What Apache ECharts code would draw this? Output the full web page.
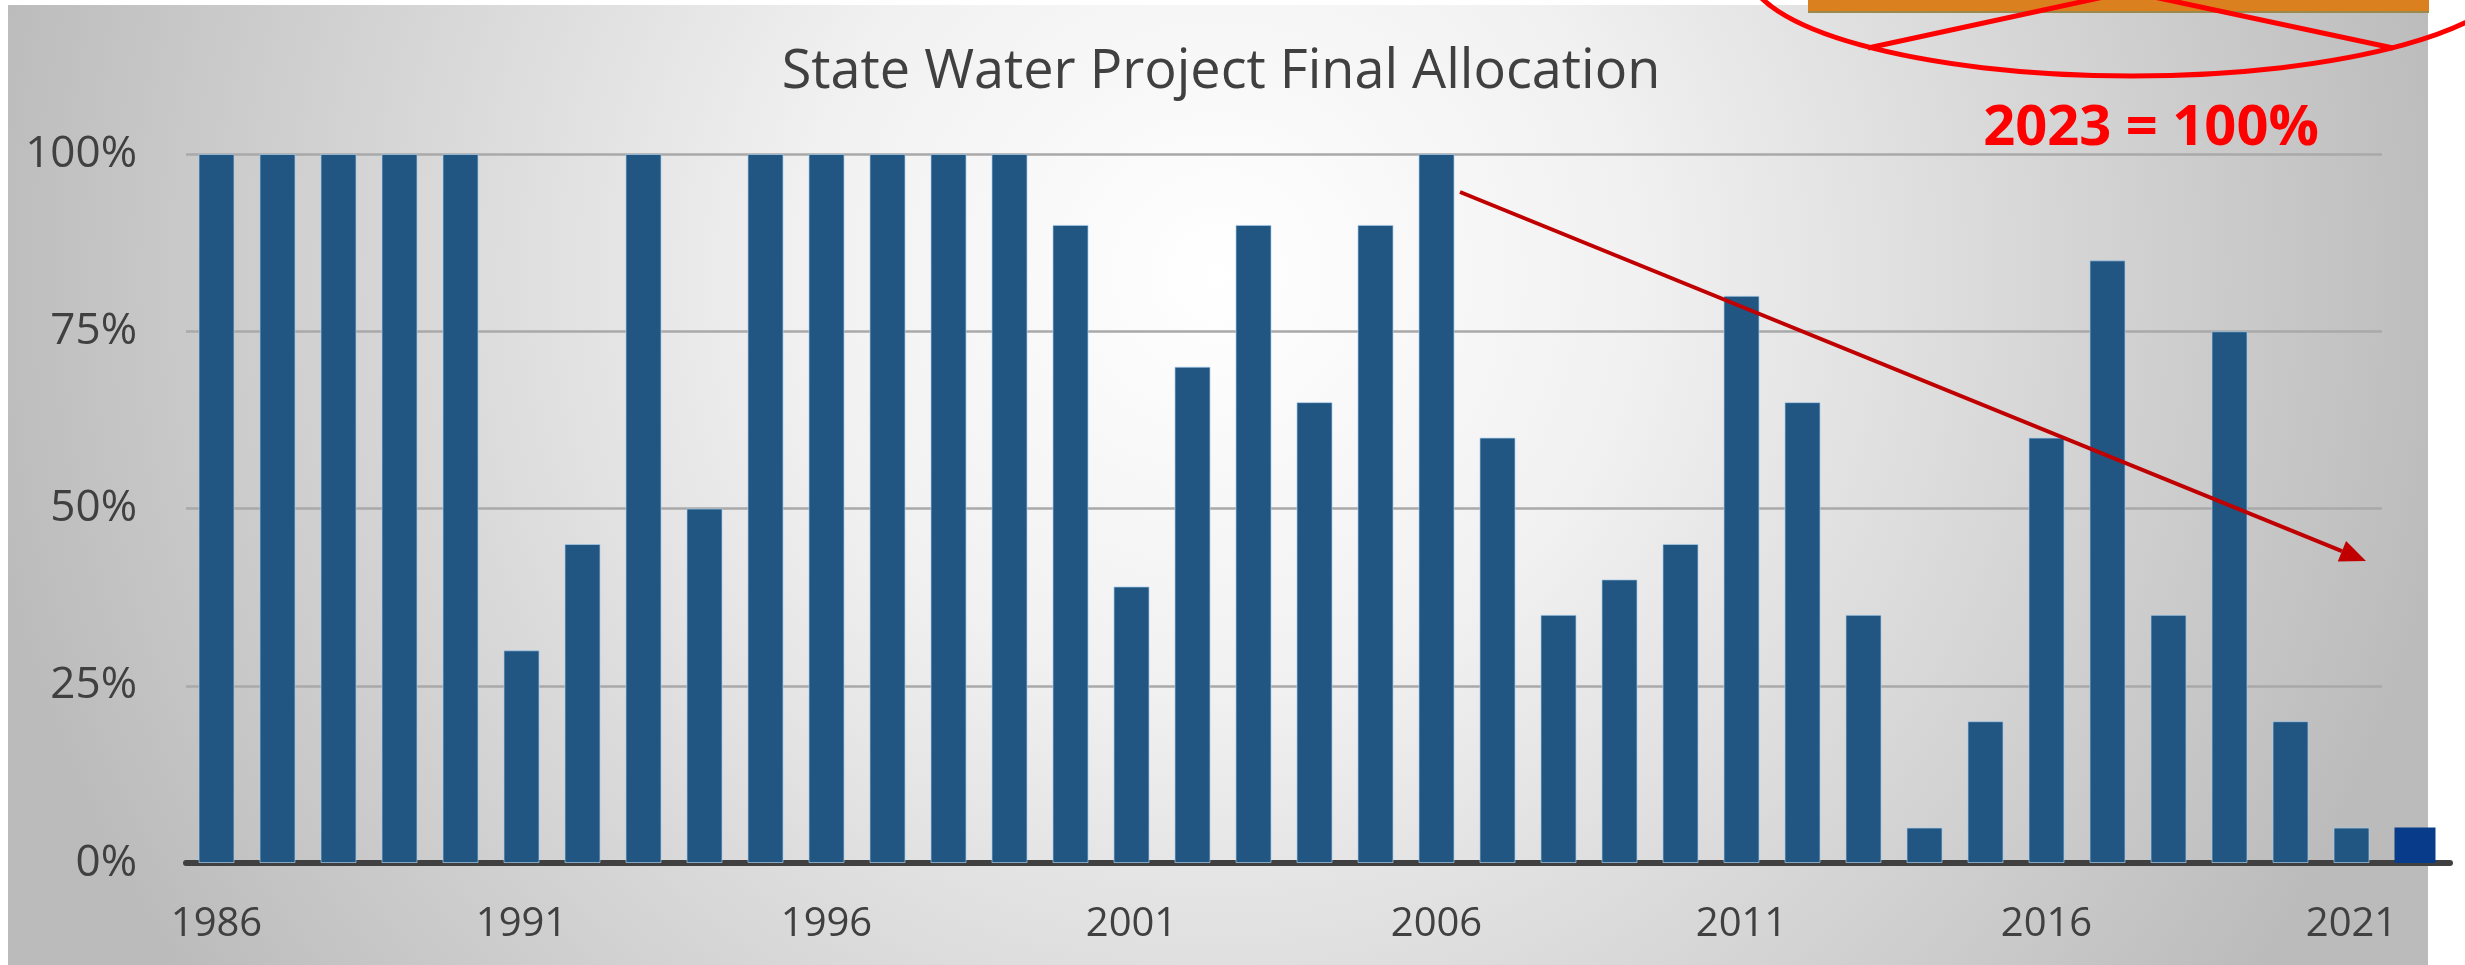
<!DOCTYPE html>
<html>
<head>
<meta charset="utf-8">
<title>State Water Project Final Allocation</title>
<script src="https://cdn.jsdelivr.net/npm/echarts@6/dist/echarts.min.js"></script>
<style>
    html, body {margin: 0; padding: 0; background: #ffffff;}
    #swp {width: 2465px; height: 965px;}
</style>
</head>
<body>
<div id="swp"></div>
<script>
// allocation by year (percent of contract amount)
var years = ['1986', '1987', '1988', '1989', '1990', '1991', '1992', '1993', '1994', '1995', '1996', '1997',
    '1998', '1999', '2000', '2001', '2002', '2003', '2004', '2005', '2006', '2007', '2008', '2009',
    '2010', '2011', '2012', '2013', '2014', '2015', '2016', '2017', '2018', '2019', '2020', '2021'];
var allocation = [100, 100, 100, 100, 100, 30, 45, 100, 50, 100, 100, 100,
    100, 100, 90, 39, 70, 90, 65, 90, 100, 60, 35, 40,
    45, 80, 65, 35, 5, 20, 60, 85, 35, 75, 20, 5];
// the bar pasted on at the end
var extraYears = ['2022'];
var extraAllocation = [5];
var yTicks = [0, 25, 50, 75, 100];
var titleText = 'State Water Project Final Allocation';
var noteText = '2023 = 100%';

var SwpChart = {
    chart: null
};

SwpChart.arrow = function (x1, y1, x2, y2) {
    var ang = Math.atan2(y2 - y1, x2 - x1);
    var len = 26, half = 11;
    var bx = x2 - len * Math.cos(ang), by = y2 - len * Math.sin(ang);
    var px = -Math.sin(ang) * half, py = Math.cos(ang) * half;
    return [
        {type: 'line', z: 100, shape: {x1: x1, y1: y1, x2: bx, y2: by}, style: {stroke: '#c00000', lineWidth: 4}},
        {type: 'polygon', z: 100, shape: {points: [[x2, y2], [bx + px, by + py], [bx - px, by - py]]}, style: {fill: '#c00000'}}
    ];
};

SwpChart.init = function () {
    SwpChart.chart = echarts.init(document.getElementById('swp'));
    var labelColor = '#404040';
    var graphics = [
        // slide-like panel behind the chart
        {
            type: 'rect', z: -10, silent: true,
            shape: {x: 8, y: 5, width: 2420, height: 965},
            style: {
                fill: new echarts.graphic.RadialGradient(0.5, 0.28, 1.3, [
                    {offset: 0, color: '#ffffff'},
                    {offset: 0.33, color: '#f1f1f1'},
                    {offset: 1, color: '#bbbbbb'}
                ])
            }
        },
        // orange bar peeking at the top
        {type: 'rect', z: 90, shape: {x: 1808, y: 0, width: 621, height: 12}, style: {fill: '#db801f'}},
        {type: 'rect', z: 90, shape: {x: 1808, y: 11, width: 621, height: 2}, style: {fill: '#9b8a4e'}},
        // red ellipse with a cross
        {type: 'ellipse', z: 100, shape: {cx: 2132, cy: -30, rx: 384, ry: 106}, style: {fill: 'none', stroke: '#ff0000', lineWidth: 5}},
        {type: 'line', z: 100, shape: {x1: 1868, y1: 48, x2: 2136, y2: -10}, style: {stroke: '#ff0000', lineWidth: 5}},
        {type: 'line', z: 100, shape: {x1: 2393, y1: 48, x2: 2121, y2: -10}, style: {stroke: '#ff0000', lineWidth: 5}},
        {
            type: 'text', z: 100, x: 2151, y: 129,
            style: {
                text: noteText, fill: '#ff0000', fontFamily: 'Open Sans', fontWeight: 'bold', fontSize: 56,
                textAlign: 'center', textVerticalAlign: 'middle'
            }
        }
    ].concat(SwpChart.arrow(1460, 192, 2366, 561));

    var option = {
        backgroundColor: '#ffffff',
        animation: false,
        title: {
            text: titleText,
            left: 1216,
            top: 41,
            textAlign: 'center',
            textStyle: {fontFamily: 'Open Sans', fontWeight: 'normal', fontSize: 54, color: labelColor}
        },
        graphic: graphics,
        grid: [
            {left: 186, right: 83, top: 154, bottom: 102},
            {left: 2380, right: 15, top: 154, bottom: 102}
        ],
        xAxis: [{
            type: 'category',
            gridIndex: 0,
            data: years,
            axisLine: {lineStyle: {color: '#404040', width: 6}},
            axisTick: {show: false},
            axisLabel: {interval: 4, margin: 42, fontFamily: 'Open Sans', fontSize: 40, color: labelColor}
        }, {
            type: 'category',
            gridIndex: 1,
            data: extraYears,
            axisLine: {lineStyle: {color: '#404040', width: 6}},
            axisTick: {show: false},
            axisLabel: {show: false}
        }],
        yAxis: [{
            type: 'value',
            gridIndex: 0,
            min: yTicks[0],
            max: yTicks[yTicks.length - 1],
            interval: yTicks[1] - yTicks[0],
            axisLine: {show: false},
            axisTick: {show: false},
            axisLabel: {formatter: '{value}%', margin: 49, fontFamily: 'Open Sans', fontSize: 44, color: labelColor},
            splitLine: {lineStyle: {color: '#a9a9a9', width: 2.5}}
        }, {
            type: 'value',
            gridIndex: 1,
            min: yTicks[0],
            max: yTicks[yTicks.length - 1],
            show: false
        }],
        series: [{
            name: 'Final Allocation',
            type: 'bar',
            xAxisIndex: 0,
            yAxisIndex: 0,
            barWidth: 36,
            data: allocation,
            itemStyle: {color: '#215582', borderColor: 'rgba(170,205,235,0.7)', borderWidth: 1}
        }, {
            name: '2022',
            type: 'bar',
            xAxisIndex: 1,
            yAxisIndex: 1,
            barWidth: 41,
            data: extraAllocation,
            itemStyle: {color: '#083c8b'}
        }]
    };
    SwpChart.chart.setOption(option);
};

SwpChart.init();
</script>
</body>
</html>
